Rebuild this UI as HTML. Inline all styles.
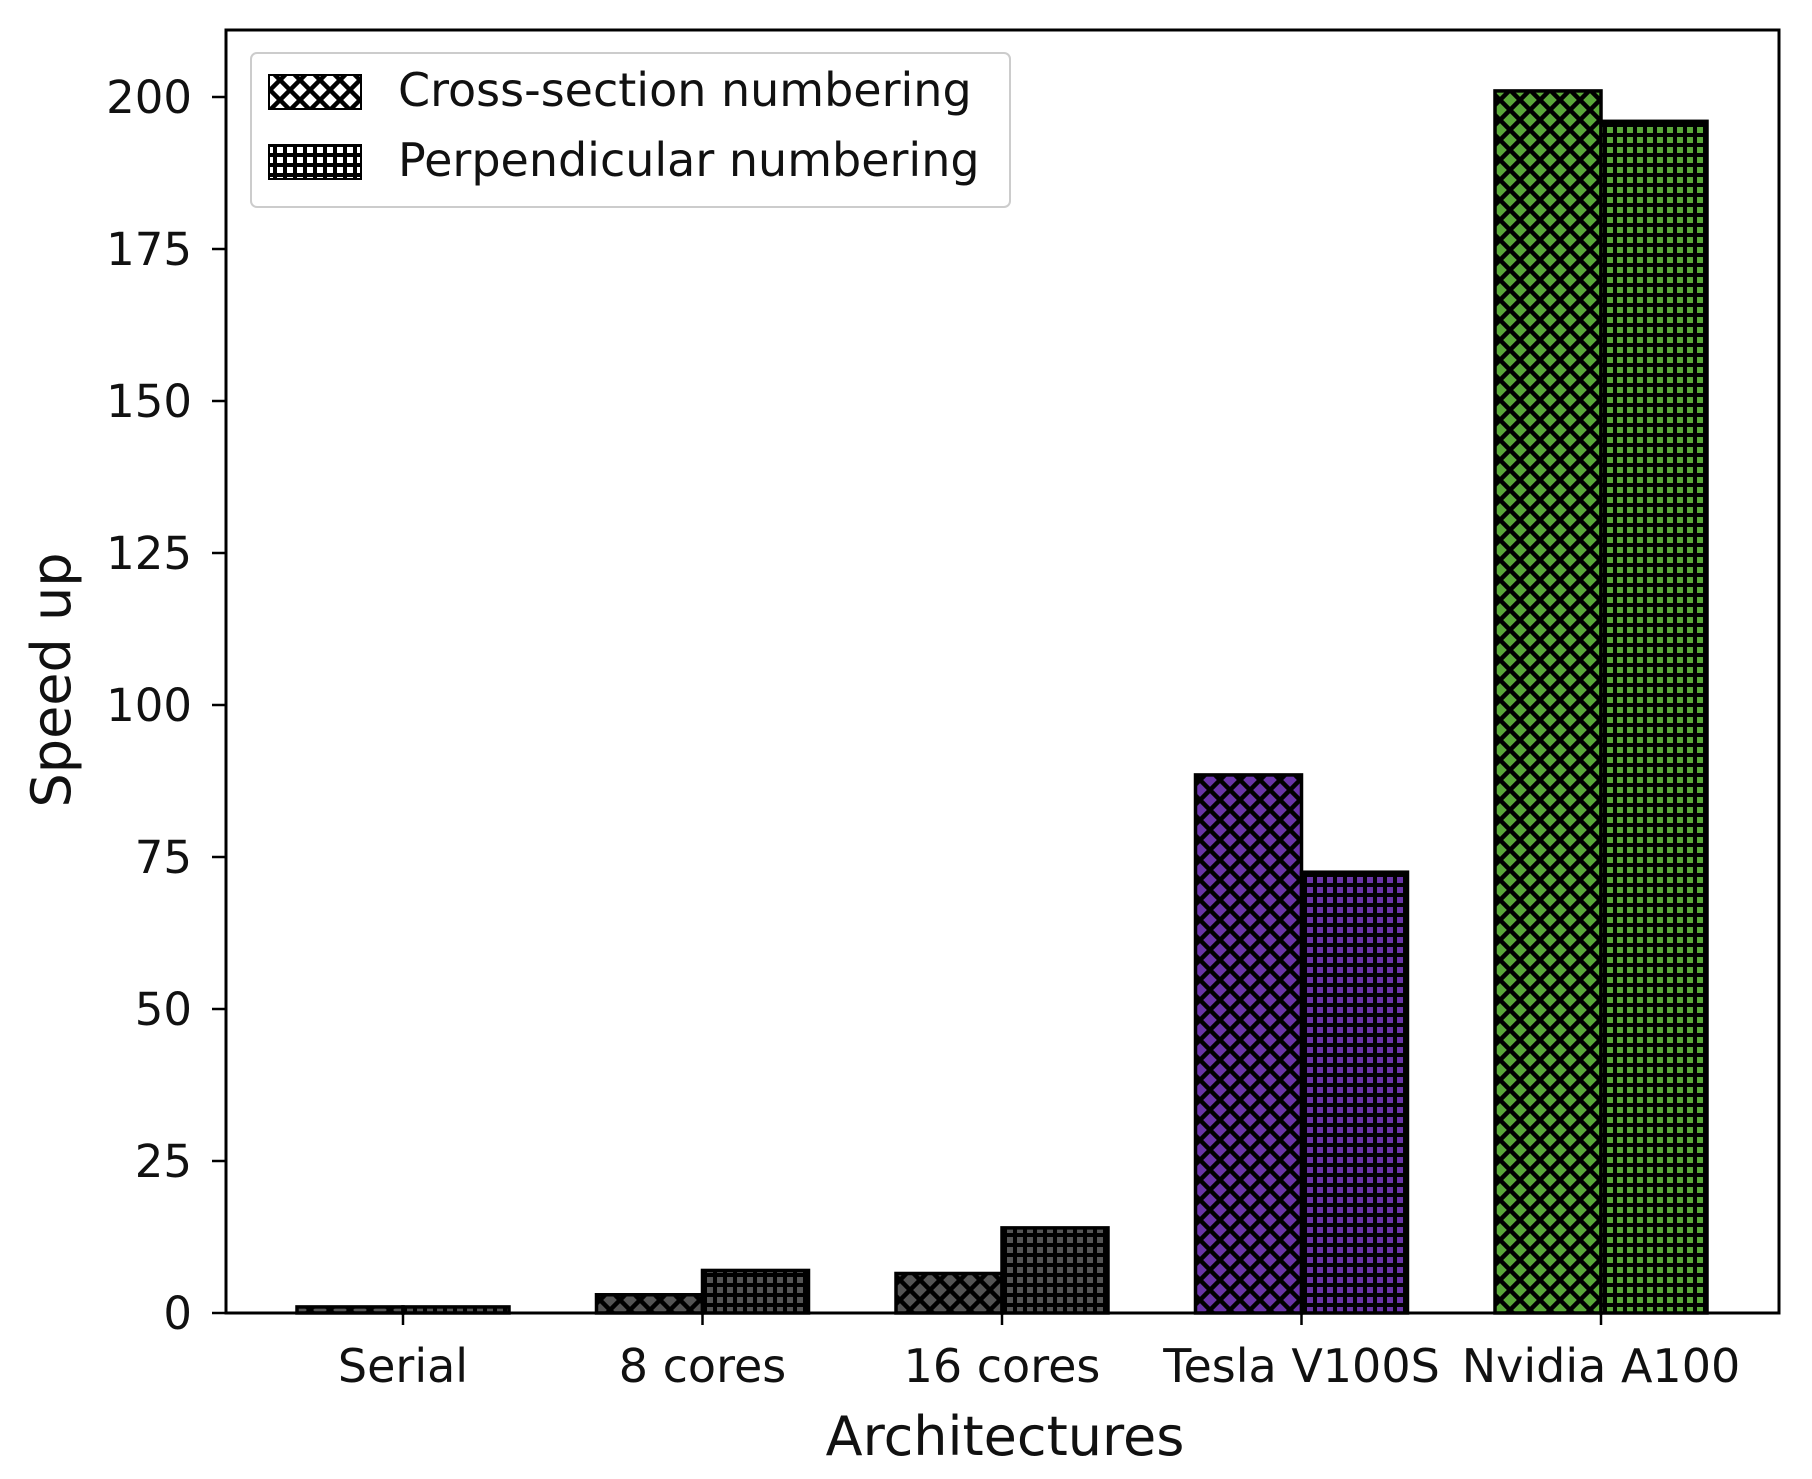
<!DOCTYPE html>
<html><head><meta charset="utf-8"><style>
html,body{margin:0;padding:0;background:#fff;}
svg{display:block;font-family:"DejaVu Sans","Liberation Sans",sans-serif;}
</style></head><body>
<svg width="1812" height="1479" viewBox="0 0 1812 1479">
<defs>
<pattern id="hx" width="20" height="20" patternUnits="userSpaceOnUse">
<path d="M-5,-5 L25,25 M-5,25 L25,-5 M-5,15 L5,25 M15,-5 L25,5 M-5,5 L5,-5 M15,25 L25,15" stroke="#000" stroke-width="4.5"/>
</pattern>
<pattern id="hp" width="10" height="10" patternUnits="userSpaceOnUse">
<path d="M0,5 L10,5 M5,0 L5,10" stroke="#000" stroke-width="4"/>
</pattern>
</defs>
<g id="plot"></g>
<g id="legend">
<rect x="251" y="53" width="759" height="154" rx="6" fill="#fff" stroke="#ccc" stroke-width="2"/>
<g>
<rect x="269" y="75" width="92" height="34" fill="#fff"/><rect x="269" y="75" width="92" height="34" fill="url(#hx)" stroke="#000" stroke-width="2"/>
<text x="398" y="106" font-size="46" fill="#111">Cross-section numbering</text></g>
<g>
<rect x="269" y="145" width="92" height="34" fill="#fff"/><rect x="269" y="145" width="92" height="34" fill="url(#hp)" stroke="#000" stroke-width="2"/>
<text x="398" y="176" font-size="46" fill="#111">Perpendicular numbering</text></g>
</g>
<text x="1005" y="1455" font-size="54" text-anchor="middle" fill="#111">Architectures</text>
<text transform="translate(70,680) rotate(-90)" font-size="54" text-anchor="middle" fill="#111">Speed up</text>
</svg>
<script>
const categories = ["Serial","8 cores","16 cores","Tesla V100S","Nvidia A100"];
const crossValues = [1, 3, 6.5, 88.5, 201];
const perpValues = [1, 7, 14, 72.5, 196];
const barColors = ["#555555","#555555","#555555","#6a35a8","#5aa83a"];
const yTicks = [0,25,50,75,100,125,150,175,200];

const L=226,R=1779,T=30,B=1313;
const yS=v=>B-(v/200)*(B-97);
const xS=i=>403+i*299.5;
const bw=106;
const NS="http://www.w3.org/2000/svg";
const g=document.getElementById('plot');
function mk(t,a){const e=document.createElementNS(NS,t);for(const k in a)e.setAttribute(k,a[k]);g.appendChild(e);return e;}

categories.forEach((c,i)=>{
  [[crossValues,'hx',-bw,'cross'],[perpValues,'hp',0,'perp']].forEach(([arr,pat,off,nm])=>{
    const x=xS(i)+off, y=yS(arr[i]), h=B-y;
    const bg=mk('rect',{x:x,y:y,width:bw,height:h,fill:barColors[i]});
    
    
    const r=mk('rect',{x:x,y:y,width:bw,height:h,fill:'url(#'+pat+')',stroke:'#000','stroke-width':3.5});
    
    
  });
  const tk=mk('line',{x1:xS(i),x2:xS(i),y1:B,y2:B+12,stroke:'#000','stroke-width':2.5});
  
  
  const t=mk('text',{x:xS(i),y:1382,'font-size':46,'text-anchor':'middle',fill:'#111'});
  t.textContent=c;
  
  
});
yTicks.forEach(v=>{
  const tk=mk('line',{x1:L-14,x2:L,y1:yS(v),y2:yS(v),stroke:'#000','stroke-width':2.5});
  
  
  const t=mk('text',{x:192,y:yS(v)+16,'font-size':45,'text-anchor':'end',fill:'#111'});
  t.textContent=v;
  
  
});
const fr=mk('rect',{x:L,y:T,width:R-L,height:B-T,fill:'none',stroke:'#000','stroke-width':3});


</script>
</body></html>
